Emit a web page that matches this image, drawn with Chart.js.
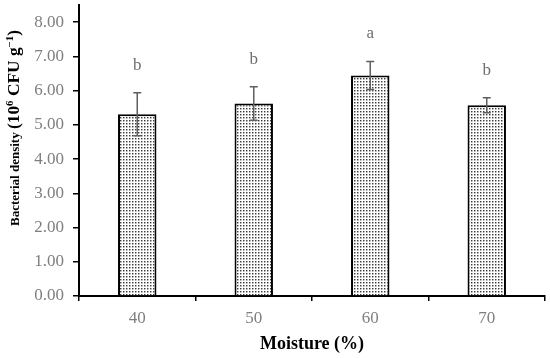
<!DOCTYPE html>
<html>
<head>
<meta charset="utf-8">
<script src="https://cdn.jsdelivr.net/npm/chart.js@4/dist/chart.umd.min.js"></script>
<style>
    html, body { margin: 0; padding: 0; background: #fff; }
    #wrap { width: 550px; height: 358px; }
</style>
</head>
<body>
<div id="wrap"><canvas id="chart"></canvas></div>
<script>
const moisture = ["40", "50", "60", "70"]
const density = [5.31, 5.62, 6.44, 5.57]
const errors = [0.63, 0.49, 0.41, 0.22]
const letters = ["b", "b", "a", "b"]
const yTicks = [0, 1, 2, 3, 4, 5, 6, 7, 8]

// dotted fill like the original bars
function MakeDots() {
    const c = document.createElement("canvas")
    c.width = 3
    c.height = 3
    const g = c.getContext("2d")
    g.fillStyle = "#ffffff"
    g.fillRect(0, 0, 3, 3)
    g.fillStyle = "#3c3c3c"
    g.fillRect(0, 0, 1, 1)
    g.fillStyle = "#a8a8a8"
    g.fillRect(1, 0, 1, 1)
    g.fillRect(0, 1, 1, 1)
    g.fillStyle = "#d8d8d8"
    g.fillRect(1, 1, 1, 1)
    return g.createPattern(c, "repeat")
}

const ctx = document.getElementById("chart").getContext("2d")

// error bars and significance letters
const extrasPlugin = {
    id: "extras",
    afterDatasetsDraw(chart) {
        const { ctx } = chart
        const x = chart.scales.x
        const y = chart.scales.y
        ctx.save()
        density.forEach((v, i) => {
            const cx = x.getPixelForValue(i)
            const top = y.getPixelForValue(v + errors[i])
            const bot = y.getPixelForValue(v - errors[i])
            ctx.strokeStyle = "#5f5f5f"
            ctx.lineWidth = 1.5
            ctx.beginPath()
            ctx.moveTo(cx, top)
            ctx.lineTo(cx, bot)
            ctx.moveTo(cx - 4, top)
            ctx.lineTo(cx + 4, top)
            ctx.moveTo(cx - 4, bot)
            ctx.lineTo(cx + 4, bot)
            ctx.stroke()

            ctx.fillStyle = "#6e6e6e"
            ctx.font = "17px 'Liberation Serif'"
            ctx.textAlign = "center"
            ctx.textBaseline = "alphabetic"
            ctx.fillText(letters[i], cx, top - 23)
        })
        ctx.restore()
    }
}

// y axis title with superscripts, drawn rotated
const yTitlePlugin = {
    id: "yTitle",
    afterDraw(chart) {
        const { ctx } = chart
        const parts = [
            { t: "Bacterial density ", size: 12, up: 0 },
            { t: "(10", size: 16, up: 0 },
            { t: "6", size: 10, up: 6 },
            { t: " CFU g", size: 16, up: 0 },
            { t: "\u22121", size: 10, up: 6 },
            { t: ")", size: 16, up: 0 }
        ]
        ctx.save()
        let total = 0
        parts.forEach(p => {
            ctx.font = "bold " + p.size + "px 'Liberation Serif'"
            p.w = ctx.measureText(p.t).width
            total += p.w
        })
        const target = 196
        const k = target / total
        ctx.translate(19, 128)
        ctx.rotate(-Math.PI / 2)
        ctx.scale(k, 1)
        ctx.fillStyle = "#000"
        ctx.textBaseline = "alphabetic"
        ctx.textAlign = "left"
        let px = -total / 2
        parts.forEach(p => {
            ctx.font = "bold " + p.size + "px 'Liberation Serif'"
            ctx.fillText(p.t, px, -p.up)
            px += p.w
        })
        ctx.restore()
    }
}

new Chart(ctx, {
    type: "bar",
    data: {
        labels: moisture,
        datasets: [
            {
                data: density,
                backgroundColor: MakeDots(),
                borderColor: "#000",
                borderWidth: 2,
                barPercentage: 0.33,
                categoryPercentage: 1
            }
        ]
    },
    options: {
        responsive: true,
        maintainAspectRatio: false,
        animation: false,
        layout: { padding: { top: 5, right: 5, left: 0, bottom: 0 } },
        plugins: {
            legend: { display: false },
            tooltip: { enabled: false }
        },
        scales: {
            x: {
                grid: {
                    offset: true,
                    drawOnChartArea: false,
                    color: "#000",
                    tickLength: 5,
                    lineWidth: 1.5
                },
                border: { color: "#000", width: 2 },
                ticks: {
                    color: "#7f7f7f",
                    font: { family: "'Liberation Serif'", size: 17 },
                    padding: 7
                },
                title: {
                    display: true,
                    text: "Moisture (%)",
                    color: "#000",
                    font: { family: "'Liberation Serif'", size: 18, weight: "bold" },
                    padding: { top: 0, bottom: 3 }
                },
                afterFit(scale) { scale.height = 62 }
            },
            y: {
                min: 0,
                max: 8.5,
                afterBuildTicks(scale) {
                    scale.ticks = yTicks.map(v => ({ value: v }))
                },
                grid: {
                    drawOnChartArea: false,
                    color: "#000",
                    tickLength: 6,
                    lineWidth: 1.5
                },
                border: { color: "#000", width: 2 },
                ticks: {
                    color: "#7f7f7f",
                    font: { family: "'Liberation Serif'", size: 17 },
                    padding: 9,
                    callback: v => v.toFixed(2)
                },
                afterFit(scale) {
                    scale.width = 79
                    scale.paddingTop = 0
                    scale.paddingBottom = 0
                }
            }
        }
    },
    plugins: [extrasPlugin, yTitlePlugin]
})
</script>
</body>
</html>
